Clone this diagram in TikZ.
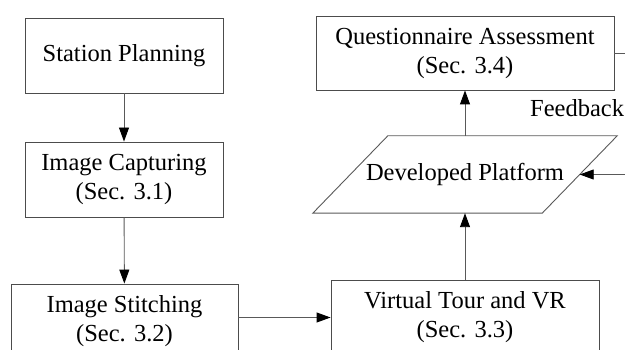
\documentclass[tikz,border=0pt]{standalone}
\usepackage{fontspec}
\setmainfont{Liberation Serif}
\usetikzlibrary{arrows.meta}
\begin{document}
\begin{tikzpicture}[x=1pt,y=-1pt,
  box/.style={draw=black!70,line width=0.9pt,minimum height=75pt,inner sep=0pt,align=center,font=\fontsize{24.5}{29}\selectfont},
  txt/.style={inner sep=0pt,align=center,font=\fontsize{24.5}{29}\selectfont},
  conn/.style={draw=black!65,line width=0.9pt,-{Triangle[length=14pt,width=10pt,fill=black,color=black]}},
  line/.style={draw=black!65,line width=0.9pt}]
\useasboundingbox (0,0) rectangle (625,350);
\clip (0,0) rectangle (625,350);
\node[box,minimum width=198pt] (SP) at (124,55.5) {Station Planning};
\node[box,minimum width=198pt] (IC) at (124,179.5) {Image Capturing\\(Sec. 3.1)};
\node[box,minimum width=227pt] (IS) at (124.5,321.5) {Image Stitching\\(Sec. 3.2)};
\node[box,minimum width=268pt] (VT) at (465,317.5) {Virtual Tour and VR\\(Sec. 3.3)};
\node[box,minimum width=298pt,minimum height=74pt] (QA) at (465,53) {Questionnaire Assessment\\(Sec. 3.4)};
\node[txt,minimum width=229pt,minimum height=77pt] (DP) at (465,174.5) {Developed Platform};
\draw[line] ([xshift=-37.5pt]DP.north east) -- ([xshift=37.5pt]DP.north east)
  -- ([xshift=-37.5pt]DP.south east) -- ([xshift=-37.5pt]DP.south west)
  -- ([xshift=37.5pt]DP.north west) -- cycle;
\node[txt,anchor=base west] (FB) at (530,117) {Feedback};
\coordinate (loop) at (660,0);
\draw[conn] (SP) -- (IC);
\draw[conn] (IC) -- (IS);
\draw[conn] (IS.east |- VT.west) -- (VT.west);
\draw[conn] (VT) -- (DP.south);
\draw[conn] (DP.north) -- (QA);
\draw[conn] (QA.east) -- (QA.east -| loop) |- (DP.east);
\end{tikzpicture}
\end{document}
